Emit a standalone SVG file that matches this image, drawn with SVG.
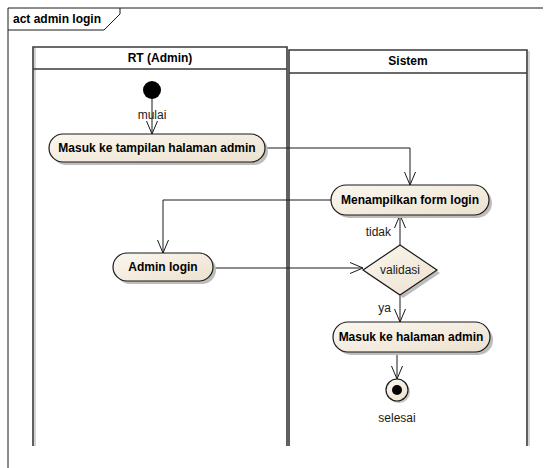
<svg xmlns="http://www.w3.org/2000/svg" width="549" height="468" viewBox="0 0 549 468">
  <style>
    .frame { fill: none; stroke: #1a1a1a; stroke-width: 1; }
    .lane { fill: none; stroke: #3a3a3a; stroke-width: 1.6; }
    .lane-shadow { fill: none; stroke: #c4c4c4; stroke-width: 1.5; }
    .act { fill: url(#actFill); stroke: #1a1a1a; stroke-width: 1.2; }
    .shadow { fill: #bdbdbd; }
    .edge { fill: none; stroke: #1a1a1a; stroke-width: 1; }
    .t-bold { font-family: "Liberation Sans", Arial, sans-serif; font-size: 12px; font-weight: bold; fill: #000; }
    .t { font-family: "Liberation Sans", Arial, sans-serif; font-size: 12px; fill: #1a1a1a; }
  </style>
  <defs>
    <linearGradient id="actFill" x1="0" y1="0" x2="1" y2="1">
      <stop offset="0" stop-color="#fbf7ef"/>
      <stop offset="1" stop-color="#ece1cf"/>
    </linearGradient>
    <marker id="open" viewBox="0 0 14 12" refX="13" refY="6" markerWidth="14" markerHeight="12" markerUnits="userSpaceOnUse" orient="auto">
      <path d="M0,0.5 L13,6 L0,11.5" fill="none" stroke="#1a1a1a" stroke-width="1"/>
    </marker>
  </defs>

  <rect width="549" height="468" fill="#ffffff"/>

  <!-- diagram frame and its name tab -->
  <g id="frame">
    <path class="frame" d="M8,468 L8,8 L543,8"/>
    <path class="frame" d="M8,30 L104,30 L120,14 L120,8"/>
    <text class="t-bold" x="13" y="23">act admin login</text>
  </g>

  <!-- swimlanes -->
  <g id="lane-rt">
    <path class="lane-shadow" d="M35,48 L35,446"/>
    <path class="lane" d="M33,446 L33,47 L287,47 L287,446 M33,69 L287,69"/>
    <text class="t-bold" x="160" y="62" text-anchor="middle">RT (Admin)</text>
  </g>
  <g id="lane-sistem">
    <path class="lane-shadow" d="M529,51 L529,446"/>
    <path class="lane" d="M289,446 L289,50 L527,50 L527,446 M289,73 L527,73"/>
    <text class="t-bold" x="408" y="65" text-anchor="middle">Sistem</text>
  </g>

  <!-- connectors -->
  <g id="connectors">
    <path class="edge" d="M152,98 L152,134" marker-end="url(#open)"/>
    <path class="edge" d="M265,148 L410,148 L410,185" marker-end="url(#open)"/>
    <path class="edge" d="M331,200 L163,200 L163,253" marker-end="url(#open)"/>
    <path class="edge" d="M213,268 L363,268" marker-end="url(#open)"/>
    <path class="edge" d="M400,245 L400,215" marker-end="url(#open)"/>
    <path class="edge" d="M400,295 L400,322" marker-end="url(#open)"/>
    <path class="edge" d="M397,352 L397,379" marker-end="url(#open)"/>
    <text class="t" x="152" y="119" text-anchor="middle" fill="#1a1a1a">mulai</text>
    <text class="t" x="391" y="236" text-anchor="end">tidak</text>
    <text class="t" x="391" y="312" text-anchor="end">ya</text>
  </g>

  <!-- nodes -->
  <g id="start">
    <circle cx="152" cy="90" r="9" fill="#000"/>
  </g>

  <g id="masuk-tampilan">
    <rect class="shadow" x="52" y="137" width="216" height="28" rx="14"/>
    <rect class="act" x="49" y="134" width="216" height="28" rx="14"/>
    <text class="t-bold" x="157" y="152" text-anchor="middle">Masuk ke tampilan halaman admin</text>
  </g>

  <g id="menampilkan-form">
    <rect class="shadow" x="334" y="188" width="158" height="30" rx="15"/>
    <rect class="act" x="331" y="185" width="158" height="30" rx="15"/>
    <text class="t-bold" x="410" y="204" text-anchor="middle">Menampilkan form login</text>
  </g>

  <g id="admin-login">
    <rect class="shadow" x="116" y="256" width="100" height="28" rx="14"/>
    <rect class="act" x="113" y="253" width="100" height="28" rx="14"/>
    <text class="t-bold" x="163" y="271" text-anchor="middle">Admin login</text>
  </g>

  <g id="validasi">
    <polygon class="shadow" points="403,248 440,273 403,298 366,273"/>
    <polygon class="act" points="400,245 437,270 400,295 363,270"/>
    <text class="t" x="400" y="274" text-anchor="middle">validasi</text>
  </g>

  <g id="masuk-halaman">
    <rect class="shadow" x="336" y="325" width="157" height="30" rx="15"/>
    <rect class="act" x="333" y="322" width="157" height="30" rx="15"/>
    <text class="t-bold" x="411" y="341" text-anchor="middle">Masuk ke halaman admin</text>
  </g>

  <g id="end">
    <circle cx="399" cy="392" r="11" fill="#c8c8c8"/>
    <circle cx="397" cy="390" r="11" fill="url(#actFill)" stroke="#1a1a1a" stroke-width="1.2"/>
    <circle cx="397" cy="390" r="5" fill="#000"/>
    <text class="t" x="397" y="422" text-anchor="middle">selesai</text>
  </g>
</svg>
